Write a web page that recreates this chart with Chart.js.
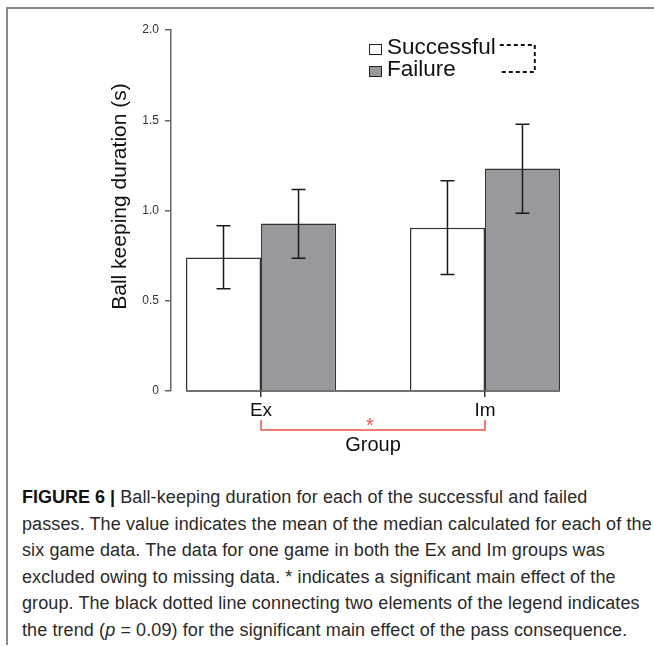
<!DOCTYPE html>
<html>
<head>
<meta charset="utf-8">
<script src="https://cdn.jsdelivr.net/npm/chart.js@4.4.1/dist/chart.umd.min.js"></script>
<style>
  body { margin: 0; background: #fff; width: 654px; height: 646px; overflow: hidden; position: relative; }
  #frame { position: absolute; left: 6px; top: 7px; width: 660px; height: 636px; border-top: 2px solid #8a8a8a; border-left: 2px solid #8a8a8a; }
  #chart { position: absolute; left: 0; top: 0; }
  #caption { position: absolute; left: 22px; top: 484px; font-family: "Liberation Sans", Arial, sans-serif; font-size: 18px; letter-spacing: 0.1px; line-height: 26.5px; color: #2a2a2a; white-space: nowrap; }
  #caption b { color: #111; letter-spacing: 0; }
</style>
</head>
<body>
<div id="frame"></div>
<canvas id="chart" width="654" height="470"></canvas>
<div id="caption">
<b>FIGURE 6 |</b> Ball-keeping duration for each of the successful and failed<br>
passes. The value indicates the mean of the median calculated for each of the<br>
six game data. The data for one game in both the Ex and Im groups was<br>
excluded owing to missing data. * indicates a significant main effect of the<br>
group. The black dotted line connecting two elements of the legend indicates<br>
the trend (<i>p</i> = 0.09) for the significant main effect of the pass consequence.
</div>
<script>
// groups on the x axis
var groups = ['Ex', 'Im'];

// mean ball keeping duration (s)
var successful = [0.74, 0.905];
var failure = [0.928, 1.232];

// error bar ends
var successfulLow = [0.567, 0.646];
var successfulHigh = [0.915, 1.165];
var failureLow = [0.735, 0.985];
var failureHigh = [1.117, 1.478];

var yTicks = [0, 0.5, 1.0, 1.5, 2.0];
var yTitle = 'Ball keeping duration (s)';

// significant difference between groups
var sigPairs = [['Ex', 'Im', '*']];

var errLow = [successfulLow, failureLow];
var errHigh = [successfulHigh, failureHigh];

var FONT = '"Liberation Sans", Arial, sans-serif';

function toPoints(vals) {
  return vals.map(function (v, i) { return { x: i + 1, y: v }; });
}

var errorBars = {
  id: 'errorBars',
  afterDatasetsDraw: function (chart) {
    var ctx = chart.ctx;
    var y = chart.scales.y;
    ctx.save();
    ctx.strokeStyle = '#1a1a1a';
    ctx.lineWidth = 1.5;
    chart.data.datasets.forEach(function (ds, d) {
      var meta = chart.getDatasetMeta(d);
      meta.data.forEach(function (bar, i) {
        var yl = y.getPixelForValue(errLow[d][i]);
        var yh = y.getPixelForValue(errHigh[d][i]);
        var cap = 7;
        ctx.beginPath();
        ctx.moveTo(bar.x, yl); ctx.lineTo(bar.x, yh);
        ctx.moveTo(bar.x - cap, yl); ctx.lineTo(bar.x + cap, yl);
        ctx.moveTo(bar.x - cap, yh); ctx.lineTo(bar.x + cap, yh);
        ctx.stroke();
      });
    });
    // baseline joining the bars
    var first = chart.getDatasetMeta(0).data[0];
    var last = chart.getDatasetMeta(1).data[groups.length - 1];
    var y0 = y.getPixelForValue(0);
    ctx.strokeStyle = '#444';
    ctx.lineWidth = 1.5;
    ctx.beginPath();
    ctx.moveTo(first.x - first.width / 2, y0);
    ctx.lineTo(last.x + last.width / 2, y0);
    ctx.stroke();
    ctx.restore();
  }
};

var extras = {
  id: 'extras',
  afterDraw: function (chart) {
    var ctx = chart.ctx;
    var area = chart.chartArea;
    var x = chart.scales.x;
    ctx.save();

    // y axis title (sits a little above the axis middle in the original)
    ctx.translate(area.left - 51, (area.top + area.bottom) / 2 - 14);
    ctx.rotate(-Math.PI / 2);
    ctx.font = '21px ' + FONT;
    ctx.fillStyle = '#111';
    ctx.textAlign = 'center';
    ctx.textBaseline = 'middle';
    ctx.fillText(yTitle, 0, 0);
    ctx.setTransform(1, 0, 0, 1, 0, 0);

    // significance bracket under the group labels
    sigPairs.forEach(function (p) {
      var x1 = x.getPixelForValue(groups.indexOf(p[0]) + 1);
      var x2 = x.getPixelForValue(groups.indexOf(p[1]) + 1);
      var top = area.bottom + 29, bot = area.bottom + 39;
      ctx.strokeStyle = '#f0504a';
      ctx.lineWidth = 1.5;
      ctx.beginPath();
      ctx.moveTo(x1, top); ctx.lineTo(x1, bot); ctx.lineTo(x2, bot); ctx.lineTo(x2, top);
      ctx.stroke();
      ctx.fillStyle = '#f0504a';
      ctx.font = '20px ' + FONT;
      ctx.textAlign = 'center';
      ctx.textBaseline = 'middle';
      ctx.fillText(p[2], (x1 + x2) / 2 - 3, bot - 4);
    });

    // legend
    var lx = area.left + 198, ly = area.top + 14;
    ctx.font = '22.5px ' + FONT;
    ctx.textAlign = 'left';
    ctx.textBaseline = 'alphabetic';
    var maxW = 0;
    chart.data.datasets.forEach(function (ds, d) {
      var by = ly + d * 22;
      ctx.fillStyle = ds.backgroundColor;
      ctx.fillRect(lx, by, 12, 10);
      ctx.strokeStyle = '#222';
      ctx.lineWidth = 1;
      ctx.strokeRect(lx + 0.5, by + 0.5, 12, 10);
      ctx.fillStyle = '#111';
      ctx.fillText(ds.label, lx + 18, by + 10);
      maxW = Math.max(maxW, ctx.measureText(ds.label).width);
    });
    // dotted line joining the two legend entries (trend)
    var dx1 = lx + 18 + maxW + 4, dx2 = dx1 + 35;
    ctx.strokeStyle = '#111';
    ctx.lineWidth = 2;
    ctx.setLineDash([4, 3]);
    ctx.beginPath();
    ctx.moveTo(dx1, ly + 1); ctx.lineTo(dx2, ly + 1); ctx.lineTo(dx2, ly + 28); ctx.lineTo(dx1, ly + 28);
    ctx.stroke();
    ctx.restore();
  }
};

var chart = new Chart(document.getElementById('chart').getContext('2d'), {
  type: 'bar',
  data: {
    datasets: [{
      label: 'Successful',
      data: toPoints(successful),
      backgroundColor: '#ffffff',
      borderColor: '#333333',
      borderWidth: 1.5
    }, {
      label: 'Failure',
      data: toPoints(failure),
      backgroundColor: '#98999d',
      borderColor: '#333333',
      borderWidth: 1.5
    }]
  },
  options: {
    responsive: false,
    animation: false,
    devicePixelRatio: 1,
    categoryPercentage: 0.67,
    barPercentage: 1,
    layout: { padding: { left: 100, top: 30, right: 79, bottom: 0 } },
    plugins: { legend: { display: false }, tooltip: { enabled: false } },
    scales: {
      x: {
        type: 'linear',
        min: 0.598,
        max: 2.402,
        offset: false,
        afterBuildTicks: function (s) { s.ticks = groups.map(function (g, i) { return { value: i + 1 }; }); },
        afterFit: function (s) { s.height = 79; },
        grid: { display: true, offset: false, drawOnChartArea: false, tickLength: 6, color: '#333', lineWidth: 1.5 },
        border: { display: false },
        ticks: {
          padding: 2,
          color: '#111',
          font: { family: FONT, size: 19 },
          callback: function (v) { return groups[v - 1]; }
        },
        title: {
          display: true,
          text: 'Group',
          color: '#111',
          font: { family: FONT, size: 20 },
          padding: { top: 0, bottom: 13 }
        }
      },
      y: {
        min: 0,
        max: 2,
        afterBuildTicks: function (s) { s.ticks = yTicks.map(function (v) { return { value: v }; }); },
        afterFit: function (s) { s.width = 71; },
        grid: { display: true, drawOnChartArea: false, tickLength: 6, color: '#666', lineWidth: 1.5 },
        border: { display: true, color: '#666', width: 1.5 },
        ticks: {
          padding: 6,
          color: '#333',
          font: { family: FONT, size: 12 },
          callback: function (v) { return v === 0 ? '0' : v.toFixed(1); }
        },
        title: { display: false }
      }
    }
  },
  plugins: [errorBars, extras]
});
</script>
</body>
</html>
